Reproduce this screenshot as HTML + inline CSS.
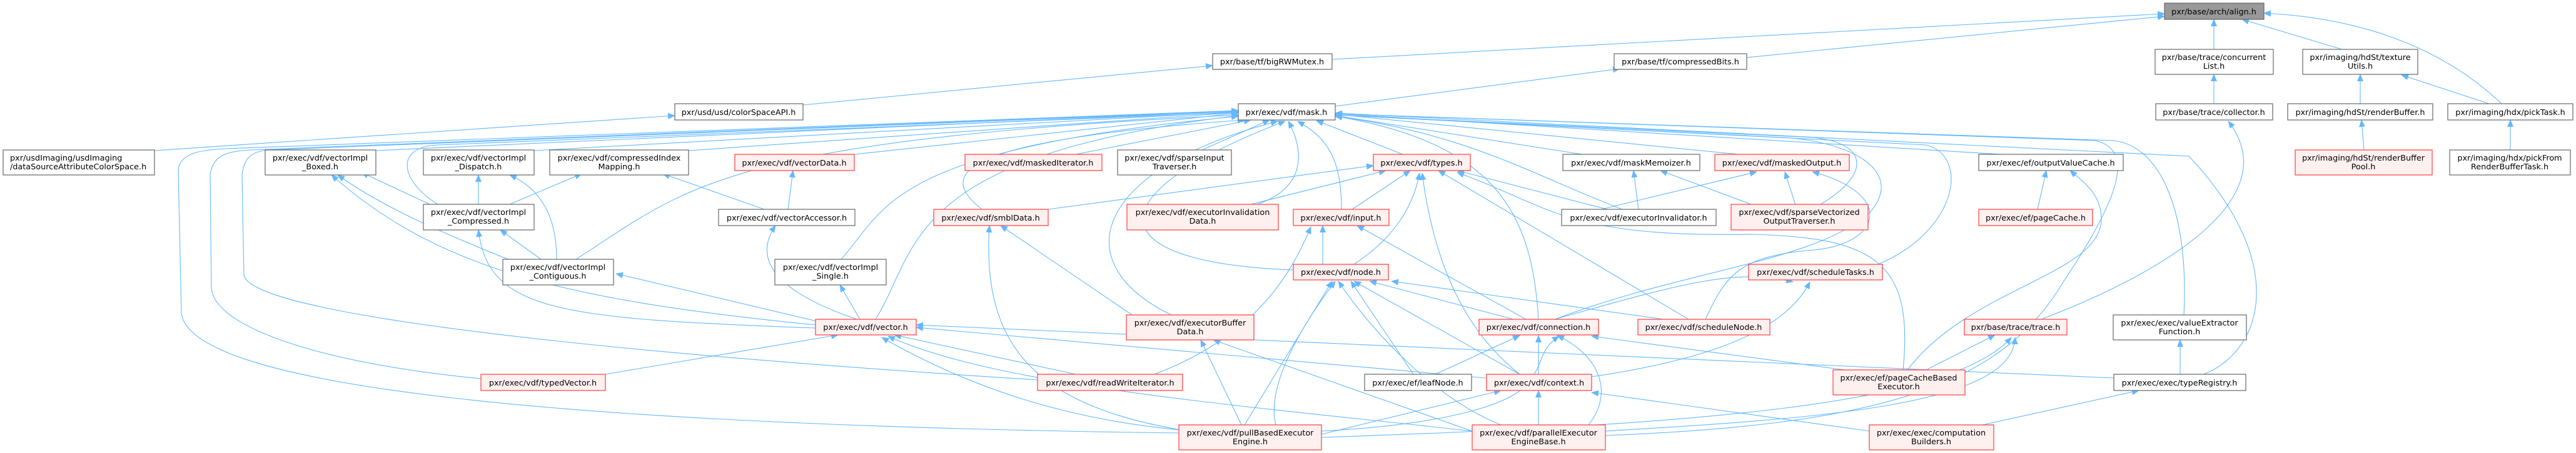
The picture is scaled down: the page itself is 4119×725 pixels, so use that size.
<!DOCTYPE html>
<html><head><meta charset="utf-8"><style>
html,body{margin:0;padding:0;background:#fff;}
svg{display:block;}
text{font-family:"DejaVu Sans","Liberation Sans",sans-serif;font-size:12.8px;fill:#000;}
.n{fill:#fff;stroke:#666;stroke-width:1.2;}
.r{fill:#fff0f0;stroke:#ff3b3b;stroke-width:1.2;}
.g{fill:#999;stroke:#666;stroke-width:1.2;}
.e path{fill:none;stroke:#63b8ff;stroke-width:1.1;marker-end:url(#a);}
</style></head><body>
<svg width="4119" height="725" viewBox="0 0 4119 725" xmlns="http://www.w3.org/2000/svg">
<defs><marker id="a" markerUnits="userSpaceOnUse" markerWidth="12" markerHeight="10" refX="11" refY="5" orient="auto"><path d="M0,0 L12,5 L0,10 z" fill="#63b8ff"/></marker></defs>
<g class="e">
<path d="M2130,95 L3461,22"/>
<path d="M2793,92 L3461,26"/>
<path d="M3540,79 L3540,31"/>
<path d="M3745,79 L3585,31"/>
<path d="M4000,166 C3920,90 3800,30 3620,21"/>
<path d="M1284,168 L1939,105"/>
<path d="M2135,170 L2590,110"/>
<path d="M247,241 L1079,185"/>
<path d="M3540,166 L3540,119"/>
<path d="M3774,166 L3774,119"/>
<path d="M3980,166 L3840,120"/>
<path d="M3780,240 L3776,192"/>
<path d="M4014,240 L4014,192"/>
<path d="M3264,511 C3450,440 3660,320 3563,194"/>
<path d="M601,241 L1980,178"/>
<path d="M854,241 L1980,179"/>
<path d="M1101,241 L1980,180"/>
<path d="M1366,247 L1980,181"/>
<path d="M1720,247 L2000,192"/>
<path d="M1922,240 L2030,192"/>
<path d="M2243,247 L2105,193"/>
<path d="M2530,247 L2135,185"/>
<path d="M2780,247 L2135,183"/>
<path d="M3200,247 L2135,182"/>
<path d="M921,415 C1100,300 1150,225 1980,184"/>
<path d="M700,327 C640,290 630,235 700,232 L1980,180"/>
<path d="M1400,511 C1470,400 1440,250 1980,185"/>
<path d="M1345,415 C1420,330 1420,240 1980,186"/>
<path d="M1570,335 C1500,280 1520,225 1990,192"/>
<path d="M1873,504 C1700,420 1750,270 2043,194"/>
<path d="M2010,327 C2090,300 2085,240 2060,194"/>
<path d="M2145,335 C2145,250 2120,220 2075,194"/>
<path d="M2068,432 C1750,420 1750,310 2055,194"/>
<path d="M2460,511 C2450,350 2400,230 2135,186"/>
<path d="M2594,335 C2450,280 2350,215 2135,186"/>
<path d="M3492,504 C3500,350 3460,235 3380,225 L2135,182"/>
<path d="M3524,599 C3620,560 3660,420 3500,250 L2135,181"/>
<path d="M2567,697 C3000,680 3200,620 3300,450 C3380,330 3420,240 3350,225 L2135,182"/>
<path d="M3003,423 C3130,370 3150,250 3080,232 L2135,184"/>
<path d="M2911,327 C2990,280 2990,230 2900,220 L2135,184"/>
<path d="M2486,511 C2700,430 2900,420 2990,340 C3050,270 2950,225 2850,220 L2135,184"/>
<path d="M1885,693 C900,680 300,620 290,500 L285,270 C290,245 320,240 360,238 L1980,177"/>
<path d="M769,606 C500,580 340,520 338,460 L336,280 C340,250 360,242 400,240 L1980,177"/>
<path d="M1659,608 C900,560 400,500 390,440 L387,280 C390,255 400,242 430,240 L1980,178"/>
<path d="M2727,511 C2760,440 2780,410 2900,400 C3010,390 3030,310 2898,275"/>
<path d="M2620,335 L2612,273"/>
<path d="M2800,327 L2655,273"/>
<path d="M2560,335 L2809,275"/>
<path d="M2871,328 L2854,275"/>
<path d="M2570,335 L2330,273"/>
<path d="M2700,511 L2300,273"/>
<path d="M2162,335 L2255,273"/>
<path d="M1676,335 L2196,265"/>
<path d="M2000,327 L2216,273"/>
<path d="M2165,423 C2230,380 2260,330 2270,277"/>
<path d="M2430,599 C2330,520 2290,400 2274,277"/>
<path d="M3043,592 C3060,420 3000,380 2800,375 C2500,380 2480,330 2330,276"/>
<path d="M2115,423 L2115,361"/>
<path d="M2440,511 L2170,361"/>
<path d="M1846,599 C2000,540 2060,450 2096,363"/>
<path d="M2420,511 L2190,450"/>
<path d="M2660,511 L2225,450"/>
<path d="M2260,599 L2160,450"/>
<path d="M2430,599 L2165,450"/>
<path d="M2400,680 C2300,640 2200,540 2140,450"/>
<path d="M1990,680 L2130,450"/>
<path d="M2040,680 C2020,600 2120,470 2135,450"/>
<path d="M2295,599 L2430,537"/>
<path d="M2460,599 L2460,537"/>
<path d="M2540,680 C2580,630 2560,570 2490,537"/>
<path d="M2113,690 C2300,680 2420,650 2445,610 C2470,580 2460,560 2493,538"/>
<path d="M2950,592 L2545,538"/>
<path d="M2113,695 L2400,625"/>
<path d="M2460,680 L2460,625"/>
<path d="M2990,690 L2545,628"/>
<path d="M2486,511 C2700,450 2780,430 2867,451"/>
<path d="M2545,603 C2700,580 2850,540 2894,451"/>
<path d="M968,599 L1340,536"/>
<path d="M1720,599 L1430,536"/>
<path d="M1885,688 C1700,670 1550,620 1410,540"/>
<path d="M2354,690 C2000,650 1600,620 1420,538"/>
<path d="M3380,605 L1465,520"/>
<path d="M2376,605 L1465,524"/>
<path d="M700,333 L578,276"/>
<path d="M820,418 C700,370 610,330 540,280"/>
<path d="M1304,520 C900,480 700,430 530,280"/>
<path d="M765,327 L765,280"/>
<path d="M890,415 C890,340 860,300 815,280"/>
<path d="M815,327 L930,278"/>
<path d="M1222,335 L1060,278"/>
<path d="M1260,335 L1268,273"/>
<path d="M865,415 L800,368"/>
<path d="M1304,525 C900,510 780,500 765,368"/>
<path d="M1310,515 L985,438"/>
<path d="M1370,511 C1250,470 1200,420 1240,361"/>
<path d="M1375,511 L1343,456"/>
<path d="M1810,504 L1600,361"/>
<path d="M1900,690 C1650,650 1570,550 1582,361"/>
<path d="M1985,680 L1920,544"/>
<path d="M2354,690 L1940,544"/>
<path d="M3258,335 L3272,273"/>
<path d="M3050,592 C3150,460 3360,440 3360,350 C3360,310 3330,290 3310,273"/>
<path d="M3080,592 L3190,536"/>
<path d="M2113,700 C2700,680 3120,650 3216,540"/>
<path d="M2567,690 C2900,670 3220,650 3222,540"/>
<path d="M3486,599 L3486,544"/>
<path d="M3170,680 L3420,625"/>
</g>
<g>
<rect class="g" x="3461" y="5" width="159" height="26"/><text x="3540" y="23" text-anchor="middle">pxr/base/arch/align.h</text>
<rect class="n" x="1939" y="86" width="191" height="25"/><text x="2034" y="103" text-anchor="middle">pxr/base/tf/bigRWMutex.h</text>
<rect class="n" x="2581" y="86" width="212" height="25"/><text x="2687" y="103" text-anchor="middle">pxr/base/tf/compressedBits.h</text>
<rect class="n" x="3446" y="79" width="189" height="40"/><text x="3540" y="96" text-anchor="middle">pxr/base/trace/concurrent</text><text x="3540" y="110" text-anchor="middle">List.h</text>
<rect class="n" x="3682" y="79" width="184" height="40"/><text x="3774" y="96" text-anchor="middle">pxr/imaging/hdSt/texture</text><text x="3774" y="110" text-anchor="middle">Utils.h</text>
<rect class="n" x="3914" y="166" width="200" height="26"/><text x="4014" y="184" text-anchor="middle">pxr/imaging/hdx/pickTask.h</text>
<rect class="n" x="1079" y="166" width="205" height="26"/><text x="1181" y="184" text-anchor="middle">pxr/usd/usd/colorSpaceAPI.h</text>
<rect class="n" x="1980" y="166" width="155" height="26"/><text x="2057" y="184" text-anchor="middle">pxr/exec/vdf/mask.h</text>
<rect class="n" x="3447" y="166" width="187" height="26"/><text x="3540" y="184" text-anchor="middle">pxr/base/trace/collector.h</text>
<rect class="n" x="3658" y="166" width="232" height="26"/><text x="3774" y="184" text-anchor="middle">pxr/imaging/hdSt/renderBuffer.h</text>
<rect class="n" x="5" y="240" width="242" height="40"/><text x="16" y="257">pxr/usdImaging/usdImaging</text><text x="16" y="271">/dataSourceAttributeColorSpace.h</text>
<rect class="n" x="424" y="240" width="177" height="40"/><text x="512" y="257" text-anchor="middle">pxr/exec/vdf/vectorImpl</text><text x="512" y="271" text-anchor="middle">_Boxed.h</text>
<rect class="n" x="677" y="240" width="177" height="40"/><text x="765" y="257" text-anchor="middle">pxr/exec/vdf/vectorImpl</text><text x="765" y="271" text-anchor="middle">_Dispatch.h</text>
<rect class="n" x="879" y="240" width="222" height="40"/><text x="990" y="257" text-anchor="middle">pxr/exec/vdf/compressedIndex</text><text x="990" y="271" text-anchor="middle">Mapping.h</text>
<rect class="r" x="1175" y="247" width="191" height="26"/><text x="1270" y="265" text-anchor="middle">pxr/exec/vdf/vectorData.h</text>
<rect class="r" x="1543" y="247" width="219" height="26"/><text x="1652" y="265" text-anchor="middle">pxr/exec/vdf/maskedIterator.h</text>
<rect class="n" x="1787" y="240" width="182" height="40"/><text x="1878" y="257" text-anchor="middle">pxr/exec/vdf/sparseInput</text><text x="1878" y="271" text-anchor="middle">Traverser.h</text>
<rect class="r" x="2196" y="247" width="155" height="26"/><text x="2273" y="265" text-anchor="middle">pxr/exec/vdf/types.h</text>
<rect class="n" x="2499" y="247" width="219" height="26"/><text x="2608" y="265" text-anchor="middle">pxr/exec/vdf/maskMemoizer.h</text>
<rect class="r" x="2742" y="247" width="215" height="26"/><text x="2849" y="265" text-anchor="middle">pxr/exec/vdf/maskedOutput.h</text>
<rect class="n" x="3164" y="247" width="231" height="26"/><text x="3279" y="265" text-anchor="middle">pxr/exec/ef/outputValueCache.h</text>
<rect class="r" x="3670" y="240" width="219" height="40"/><text x="3779" y="257" text-anchor="middle">pxr/imaging/hdSt/renderBuffer</text><text x="3779" y="271" text-anchor="middle">Pool.h</text>
<rect class="n" x="3917" y="240" width="193" height="40"/><text x="4013" y="257" text-anchor="middle">pxr/imaging/hdx/pickFrom</text><text x="4013" y="271" text-anchor="middle">RenderBufferTask.h</text>
<rect class="n" x="677" y="327" width="177" height="41"/><text x="765" y="344" text-anchor="middle">pxr/exec/vdf/vectorImpl</text><text x="765" y="358" text-anchor="middle">_Compressed.h</text>
<rect class="n" x="1149" y="335" width="218" height="26"/><text x="1258" y="353" text-anchor="middle">pxr/exec/vdf/vectorAccessor.h</text>
<rect class="r" x="1493" y="335" width="183" height="26"/><text x="1584" y="353" text-anchor="middle">pxr/exec/vdf/smblData.h</text>
<rect class="r" x="1802" y="327" width="242" height="41"/><text x="1923" y="344" text-anchor="middle">pxr/exec/vdf/executorInvalidation</text><text x="1923" y="358" text-anchor="middle">Data.h</text>
<rect class="r" x="2068" y="335" width="153" height="26"/><text x="2144" y="353" text-anchor="middle">pxr/exec/vdf/input.h</text>
<rect class="n" x="2497" y="335" width="247" height="26"/><text x="2620" y="353" text-anchor="middle">pxr/exec/vdf/executorInvalidator.h</text>
<rect class="r" x="2768" y="327" width="219" height="41"/><text x="2877" y="344" text-anchor="middle">pxr/exec/vdf/sparseVectorized</text><text x="2877" y="358" text-anchor="middle">OutputTraverser.h</text>
<rect class="r" x="3164" y="335" width="182" height="26"/><text x="3255" y="353" text-anchor="middle">pxr/exec/ef/pageCache.h</text>
<rect class="n" x="804" y="415" width="177" height="41"/><text x="892" y="432" text-anchor="middle">pxr/exec/vdf/vectorImpl</text><text x="892" y="446" text-anchor="middle">_Contiguous.h</text>
<rect class="n" x="1239" y="415" width="178" height="41"/><text x="1328" y="432" text-anchor="middle">pxr/exec/vdf/vectorImpl</text><text x="1328" y="446" text-anchor="middle">_Single.h</text>
<rect class="r" x="2068" y="423" width="152" height="25"/><text x="2144" y="440" text-anchor="middle">pxr/exec/vdf/node.h</text>
<rect class="r" x="2796" y="423" width="214" height="25"/><text x="2903" y="440" text-anchor="middle">pxr/exec/vdf/scheduleTasks.h</text>
<rect class="r" x="1304" y="511" width="161" height="25"/><text x="1384" y="528" text-anchor="middle">pxr/exec/vdf/vector.h</text>
<rect class="r" x="1801" y="504" width="204" height="40"/><text x="1903" y="521" text-anchor="middle">pxr/exec/vdf/executorBuffer</text><text x="1903" y="535" text-anchor="middle">Data.h</text>
<rect class="r" x="2365" y="511" width="191" height="25"/><text x="2460" y="528" text-anchor="middle">pxr/exec/vdf/connection.h</text>
<rect class="r" x="2619" y="511" width="211" height="25"/><text x="2724" y="528" text-anchor="middle">pxr/exec/vdf/scheduleNode.h</text>
<rect class="r" x="3141" y="511" width="164" height="25"/><text x="3223" y="528" text-anchor="middle">pxr/base/trace/trace.h</text>
<rect class="n" x="3379" y="504" width="213" height="40"/><text x="3485" y="521" text-anchor="middle">pxr/exec/exec/valueExtractor</text><text x="3485" y="535" text-anchor="middle">Function.h</text>
<rect class="r" x="769" y="599" width="199" height="26"/><text x="868" y="617" text-anchor="middle">pxr/exec/vdf/typedVector.h</text>
<rect class="r" x="1659" y="599" width="232" height="26"/><text x="1775" y="617" text-anchor="middle">pxr/exec/vdf/readWriteIterator.h</text>
<rect class="n" x="2182" y="599" width="171" height="26"/><text x="2267" y="617" text-anchor="middle">pxr/exec/ef/leafNode.h</text>
<rect class="r" x="2377" y="599" width="168" height="26"/><text x="2461" y="617" text-anchor="middle">pxr/exec/vdf/context.h</text>
<rect class="r" x="2931" y="592" width="211" height="40"/><text x="3036" y="609" text-anchor="middle">pxr/exec/ef/pageCacheBased</text><text x="3036" y="623" text-anchor="middle">Executor.h</text>
<rect class="n" x="3380" y="599" width="211" height="26"/><text x="3485" y="617" text-anchor="middle">pxr/exec/exec/typeRegistry.h</text>
<rect class="r" x="1885" y="680" width="228" height="40"/><text x="1999" y="697" text-anchor="middle">pxr/exec/vdf/pullBasedExecutor</text><text x="1999" y="711" text-anchor="middle">Engine.h</text>
<rect class="r" x="2354" y="680" width="213" height="40"/><text x="2460" y="697" text-anchor="middle">pxr/exec/vdf/parallelExecutor</text><text x="2460" y="711" text-anchor="middle">EngineBase.h</text>
<rect class="r" x="2989" y="680" width="199" height="40"/><text x="3088" y="697" text-anchor="middle">pxr/exec/exec/computation</text><text x="3088" y="711" text-anchor="middle">Builders.h</text>
</g>
</svg>
</body></html>
